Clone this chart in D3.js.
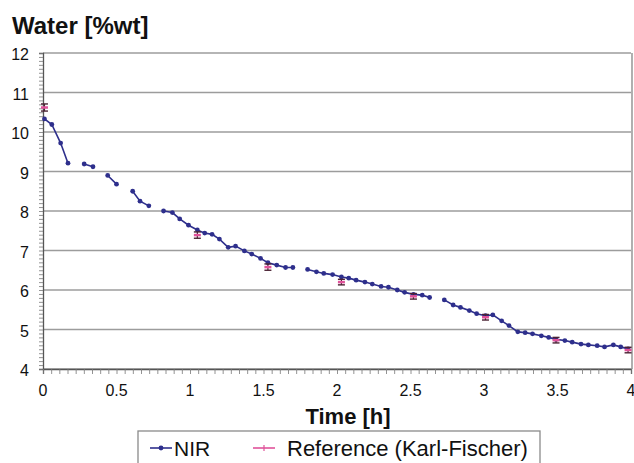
<!DOCTYPE html>
<html>
<head>
<meta charset="utf-8">
<script src="https://cdn.jsdelivr.net/npm/d3@7"></script>
<style>
  body { margin: 0; background: #fff; }
  svg { display: block; font-family: "Liberation Sans", Arial, sans-serif; }
</style>
</head>
<body>
<svg id="chart" width="634" height="463"></svg>
<script>
// NIR prediction, null = no value (line is broken there)
var nirTime  = [0.01, 0.06, 0.12, 0.17, 0.22, 0.28, 0.34, 0.39, 0.44, 0.50, 0.55, 0.61, 0.66, 0.72, 0.77,
                0.82, 0.88, 0.93, 0.99, 1.05, 1.10, 1.15, 1.20, 1.26, 1.31, 1.37, 1.42, 1.48, 1.53, 1.59, 1.65, 1.70, 1.75,
                1.80, 1.86, 1.91, 1.97, 2.03, 2.08, 2.13, 2.19, 2.24, 2.30, 2.35, 2.41, 2.46, 2.52, 2.58, 2.63, 2.68,
                2.73, 2.79, 2.84, 2.90, 2.95, 3.01, 3.06, 3.12, 3.17, 3.23, 3.28, 3.33, 3.39, 3.44, 3.49, 3.55, 3.60,
                3.66, 3.71, 3.77, 3.82, 3.88, 3.93, 3.98];
var nirWater = [10.33, 10.19, 9.72, 9.21, null, 9.19, 9.12, null, 8.90, 8.68, null, 8.50, 8.25, 8.13, null,
                8.00, 7.96, 7.80, 7.64, 7.52, 7.44, 7.41, 7.29, 7.08, 7.11, 6.99, 6.91, 6.80, 6.69, 6.63, 6.57, 6.57, null,
                6.52, 6.46, 6.42, 6.39, 6.33, 6.30, 6.25, 6.20, 6.15, 6.09, 6.07, 6.00, 5.94, 5.89, 5.87, 5.81, null,
                5.75, 5.62, 5.56, 5.48, 5.40, 5.35, 5.37, 5.22, 5.10, 4.94, 4.92, 4.89, 4.84, 4.80, 4.75, 4.72, 4.68,
                4.63, 4.61, 4.59, 4.56, 4.61, 4.56, 4.51];

// Karl-Fischer reference with error
var refTime  = [0.01, 1.05, 1.53, 2.03, 2.52, 3.01, 3.49, 3.98];
var refWater = [10.62, 7.39, 6.58, 6.20, 5.84, 5.31, 4.73, 4.48];
var refErr   = [0.09, 0.08, 0.08, 0.07, 0.07, 0.07, 0.07, 0.07];

var xTicks = [0, 0.5, 1, 1.5, 2, 2.5, 3, 3.5, 4];
var yTicks = [4, 5, 6, 7, 8, 9, 10, 11, 12];

var nirColor = "#2e2f8c";
var refColor = "#e0529a";

var svg = d3.select("#chart");
var x = d3.scaleLinear().domain([0, 4]).range([43, 631]);
var y = d3.scaleLinear().domain([4, 12]).range([369, 53]);

// gridlines
svg.append("g")
  .selectAll("line")
  .data(yTicks)
  .enter().append("line")
    .attr("x1", x(0)).attr("x2", x(4))
    .attr("y1", d => y(d)).attr("y2", d => y(d))
    .attr("stroke", "#9c9c9c")
    .attr("stroke-width", 1.7);

// right border of the plot
svg.append("line")
  .attr("x1", x(4) + 1).attr("x2", x(4) + 1)
  .attr("y1", y(12)).attr("y2", y(4))
  .attr("stroke", "#9c9c9c").attr("stroke-width", 1.6);

// y axis with minor ticks
var yAxis = d3.axisLeft(y).tickValues(d3.range(4, 12.001, 0.1)).tickSize(4).tickFormat("");
var gy = svg.append("g").attr("transform", `translate(${x(0)},0)`).call(yAxis);
gy.select(".domain").attr("stroke", "#555").attr("stroke-width", 1.3);
gy.selectAll(".tick line").attr("stroke", "#777").attr("stroke-width", 0.8);

svg.append("g")
  .selectAll("text")
  .data(yTicks)
  .enter().append("text")
    .attr("x", 29)
    .attr("y", d => y(d) + 7)
    .attr("text-anchor", "end")
    .attr("font-size", 16)
    .attr("fill", "#111")
    .text(d => d);

// x axis with minor ticks
var xAxis = d3.axisBottom(x).tickValues(d3.range(0, 4.001, 1 / 18)).tickSize(5).tickFormat("");
var gx = svg.append("g").attr("transform", `translate(0,${y(4)})`).call(xAxis);
gx.select(".domain").attr("stroke", "#555").attr("stroke-width", 1.3);
gx.selectAll(".tick line").attr("stroke", "#777").attr("stroke-width", 0.8);

svg.append("g")
  .selectAll("text")
  .data(xTicks)
  .enter().append("text")
    .attr("x", d => x(d))
    .attr("y", 396)
    .attr("text-anchor", "middle")
    .attr("font-size", 16)
    .attr("fill", "#111")
    .text(d => d);

// titles
svg.append("text")
  .attr("x", 12).attr("y", 34)
  .attr("font-size", 24).attr("font-weight", "bold").attr("fill", "#111")
  .text("Water [%wt]");

svg.append("text")
  .attr("x", 348).attr("y", 424)
  .attr("text-anchor", "middle")
  .attr("font-size", 22).attr("font-weight", "bold").attr("fill", "#111")
  .text("Time [h]");

// NIR series
var nir = nirTime.map((t, i) => ({t: t, v: nirWater[i]}));
var line = d3.line()
  .defined(d => d.v != null)
  .x(d => x(d.t))
  .y(d => y(d.v));

svg.append("path")
  .datum(nir)
  .attr("d", line)
  .attr("fill", "none")
  .attr("stroke", nirColor)
  .attr("stroke-width", 1.6);

svg.append("g")
  .selectAll("circle")
  .data(nir.filter(d => d.v != null))
  .enter().append("circle")
    .attr("cx", d => x(d.t))
    .attr("cy", d => y(d.v))
    .attr("r", 2.4)
    .attr("fill", nirColor);

// reference with error bars
var ref = refTime.map((t, i) => ({t: t, v: refWater[i], e: refErr[i]}));
var gr = svg.append("g");
ref.forEach(d => {
  var cx = x(d.t);
  gr.append("line")
    .attr("x1", cx).attr("x2", cx)
    .attr("y1", y(d.v - d.e)).attr("y2", y(d.v + d.e))
    .attr("stroke", "#4a2233").attr("stroke-width", 1.2);
  [d.v - d.e, d.v + d.e].forEach(v => {
    gr.append("line")
      .attr("x1", cx - 3.5).attr("x2", cx + 3.5)
      .attr("y1", y(v)).attr("y2", y(v))
      .attr("stroke", "#4a2233").attr("stroke-width", 1.4);
  });
  gr.append("line")
    .attr("x1", cx - 3.5).attr("x2", cx + 3.5)
    .attr("y1", y(d.v)).attr("y2", y(d.v))
    .attr("stroke", refColor).attr("stroke-width", 2.5);
});

// legend
var lg = svg.append("g");
lg.append("rect")
  .attr("x", 138).attr("y", 431)
  .attr("width", 402).attr("height", 40)
  .attr("fill", "#fff")
  .attr("stroke", "#8a8a8a").attr("stroke-width", 1.3);

lg.append("line")
  .attr("x1", 150).attr("x2", 172).attr("y1", 448).attr("y2", 448)
  .attr("stroke", nirColor).attr("stroke-width", 1.6);
lg.append("circle")
  .attr("cx", 161).attr("cy", 448).attr("r", 2.4)
  .attr("fill", nirColor);
lg.append("text")
  .attr("x", 174).attr("y", 456)
  .attr("font-size", 21).attr("fill", "#111")
  .text("NIR");

lg.append("line")
  .attr("x1", 253).attr("x2", 275).attr("y1", 448).attr("y2", 448)
  .attr("stroke", refColor).attr("stroke-width", 1.6);
lg.append("line")
  .attr("x1", 264).attr("x2", 264).attr("y1", 445).attr("y2", 451)
  .attr("stroke", refColor).attr("stroke-width", 1.2);
lg.append("text")
  .attr("x", 287).attr("y", 456)
  .attr("font-size", 22).attr("fill", "#111")
  .text("Reference (Karl-Fischer)");
</script>
</body>
</html>
